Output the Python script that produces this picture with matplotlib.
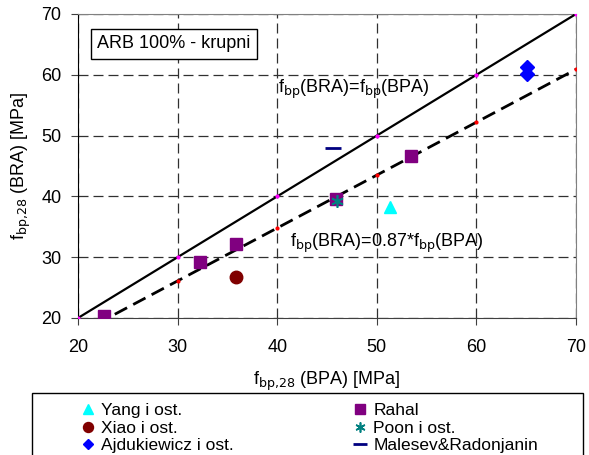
import matplotlib.pyplot as plt
from matplotlib.patches import Rectangle

plt.rcParams['font.family'] = ['Liberation Sans', 'DejaVu Sans']

# data (BPA strength, BRA strength, MPa)
yang_x, yang_y = [51.3], [38.3]
xiao_x, xiao_y = [35.9], [26.8]
ajd_x, ajd_y = [65.1, 65.1], [61.3, 60.2]
rahal_x = [22.6, 32.2, 35.9, 45.9, 53.4]
rahal_y = [20.4, 29.2, 32.2, 39.5, 46.6]
poon_x, poon_y = [46.0], [39.2]
malesev_x, malesev_y = [45.6], [48.0]

# reference lines
eq_x = [20, 30, 40, 50, 60, 70]
eq_y = [20, 30, 40, 50, 60, 70]
fit_x = [20, 30, 40, 50, 60, 70]
fit_y = [17.4, 26.1, 34.8, 43.5, 52.2, 60.9]

fig = plt.figure(figsize=(5.89, 4.55), dpi=100)
ax = fig.add_axes([78 / 589, 1 - 318 / 455, 498 / 589, 304 / 455])

ax.plot(eq_x, eq_y, color='black', lw=1.6, marker='o', ms=2,
        mfc='#FF00FF', mec='#FF00FF', zorder=3)
ax.plot(fit_x, fit_y, color='black', lw=2, dashes=(5, 2.5), marker='o', ms=2,
        mfc='#FF0000', mec='#FF0000', zorder=3)

h1, = ax.plot(yang_x, yang_y, ls='none', marker='^', ms=9, color='#00FFFF', zorder=4)
h2, = ax.plot(rahal_x, rahal_y, ls='none', marker='s', ms=9, color='#800080', zorder=4)
h3, = ax.plot(xiao_x, xiao_y, ls='none', marker='o', ms=9, color='#800000', zorder=4)
h4, = ax.plot(poon_x, poon_y, ls='none', marker=(6, 2, 0), ms=9, mew=1.2,
              color='#008080', zorder=5)
h5, = ax.plot(ajd_x, ajd_y, ls='none', marker='D', ms=7, color='#0000FF', zorder=4)
h6, = ax.plot(malesev_x, malesev_y, ls='none', marker='_', ms=12, mew=2,
              color='#000080', zorder=4)

ax.set_xlim(20, 70)
ax.set_ylim(20, 70)
ax.set_xticks([20, 30, 40, 50, 60, 70])
ax.set_yticks([20, 30, 40, 50, 60, 70])
ax.set_axisbelow(True)
ax.grid(True, color='#303030', lw=0.9, dashes=(8, 4))
ax.tick_params(labelsize=13, direction='out', length=5, color='#404040')
ax.tick_params(axis='x', pad=10)
ax.tick_params(axis='y', pad=7)

ax.spines['left'].set_color('black')
ax.spines['bottom'].set_color('#404040')
ax.spines['top'].set_color('#808080')
ax.spines['right'].set_color('#808080')

ax.set_xlabel('f$_{\\rm bp{,}28}$ (BPA) [MPa]', fontsize=13, labelpad=10)
ax.set_ylabel('f$_{\\rm bp{,}28}$ (BRA) [MPa]', fontsize=13, labelpad=6)

ax.text(40.1, 57.6, 'f$_{\\rm bp}$(BRA)=f$_{\\rm bp}$(BPA)', fontsize=13, va='center')
ax.text(41.3, 32.3, 'f$_{\\rm bp}$(BRA)=0.87*f$_{\\rm bp}$(BPA)', fontsize=13, va='center')
ax.text(21.9, 65.1, 'ARB 100% - krupni', fontsize=13, va='center',
        bbox=dict(boxstyle='square,pad=0.35', fc='white', ec='black', lw=1))

fig.patches.append(Rectangle((32 / 589, -0.05), 551 / 589, 0.05 + 1 - 393 / 455,
                             transform=fig.transFigure, fill=False,
                             ec='black', lw=1))
fig.legend([h1, h3, h5, h2, h4, h6],
           ['Yang i ost.', 'Xiao i ost.', 'Ajdukiewicz i ost.',
            'Rahal', 'Poon i ost.', 'Malesev&Radonjanin'],
           loc='upper left', bbox_to_anchor=(72 / 589, 1 - 394 / 455),
           ncol=2, frameon=False, fontsize=12.5, handlelength=0.8,
           handletextpad=0.35, labelspacing=0.15, columnspacing=6.9,
           borderpad=0, markerscale=0.8)

fig.savefig('out.png', dpi=100)
